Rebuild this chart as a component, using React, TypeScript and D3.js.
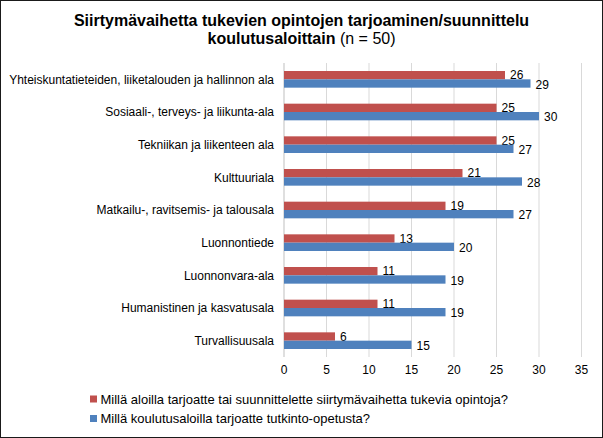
import React from "react";
import * as d3 from "d3";

const categories = [
  "Yhteiskuntatieteiden, liiketalouden ja hallinnon ala",
  "Sosiaali-, terveys- ja liikunta-ala",
  "Tekniikan ja liikenteen ala",
  "Kulttuuriala",
  "Matkailu-, ravitsemis- ja talousala",
  "Luonnontiede",
  "Luonnonvara-ala",
  "Humanistinen ja kasvatusala",
  "Turvallisuusala",
];
const planned = [26, 25, 25, 21, 19, 13, 11, 11, 6];
const degree = [29, 30, 27, 28, 27, 20, 19, 19, 15];
const xTicks = [0, 5, 10, 15, 20, 25, 30, 35];
const seriesNames = [
  "Millä aloilla tarjoatte tai suunnittelette siirtymävaihetta tukevia opintoja?",
  "Millä koulutusaloilla tarjoatte tutkinto-opetusta?",
];
const colors = ["#C0504D", "#4F81BD"];

const W = 603;
const H = 438;
const FONT = "'Liberation Sans', Arial, sans-serif";

export default function App() {
  const x = d3.scaleLinear().domain([0, 35]).range([284, 581.5]);
  const y = d3
    .scaleBand<string>()
    .domain(categories)
    .range([63, 357])
    .paddingInner(0.49)
    .paddingOuter(0.245);
  const bh = y.bandwidth() / 2;
  const series = [planned, degree];

  return (
    <svg
      width={W}
      height={H}
      style={{ position: "absolute", left: 0, top: 0, fontFamily: FONT }}
    >
      <rect x={0} y={0} width={W} height={H} fill="#fff" />
      <rect x={0.5} y={0.5} width={W - 1} height={H - 1} fill="none" stroke="#1a1a1a" strokeWidth={1} />
      <text x={301.5} y={26} textAnchor="middle" fontSize={16} fontWeight="bold" fill="#000">
        Siirtymävaihetta tukevien opintojen tarjoaminen/suunnittelu
      </text>
      <text x={301.5} y={44} textAnchor="middle" fontSize={16} fill="#000">
        <tspan fontWeight="bold">koulutusaloittain</tspan>
        <tspan> (n = 50)</tspan>
      </text>

      {xTicks.slice(1).map((t) => (
        <line key={t} x1={x(t)} x2={x(t)} y1={63} y2={357} stroke="#D9D9D9" strokeWidth={1} />
      ))}
      <line x1={x(0)} x2={x(0)} y1={63} y2={357} stroke="#BFBFBF" strokeWidth={1} />

      {categories.map((c, i) => (
        <g key={c}>
          {series.map((vals, s) => {
            const y0 = (y(c) as number) + s * bh;
            return (
              <g key={s}>
                <rect x={x(0)} y={y0} width={x(vals[i]) - x(0)} height={bh} fill={colors[s]} />
                <text
                  x={x(vals[i]) + 5}
                  y={y0 + bh / 2 + (s === 0 ? 0 : 1)}
                  dy="0.35em"
                  fontSize={12}
                  fill="#000"
                >
                  {vals[i]}
                </text>
              </g>
            );
          })}
          <text
            x={274}
            y={(y(c) as number) + y.bandwidth() / 2}
            dy="0.35em"
            textAnchor="end"
            fontSize={12}
            fill="#000"
          >
            {c}
          </text>
        </g>
      ))}

      {xTicks.map((t) => (
        <text key={t} x={x(t)} y={374} textAnchor="middle" fontSize={12} fill="#000">
          {t}
        </text>
      ))}

      {seriesNames.map((n, s) => (
        <g key={n} transform={`translate(0, ${399 + s * 19.5})`}>
          <rect x={90} y={-3.5} width={7} height={7} fill={colors[s]} />
          <text x={100.5} y={0} dy="0.35em" fontSize={13} fill="#000">
            {n}
          </text>
        </g>
      ))}
    </svg>
  );
}
